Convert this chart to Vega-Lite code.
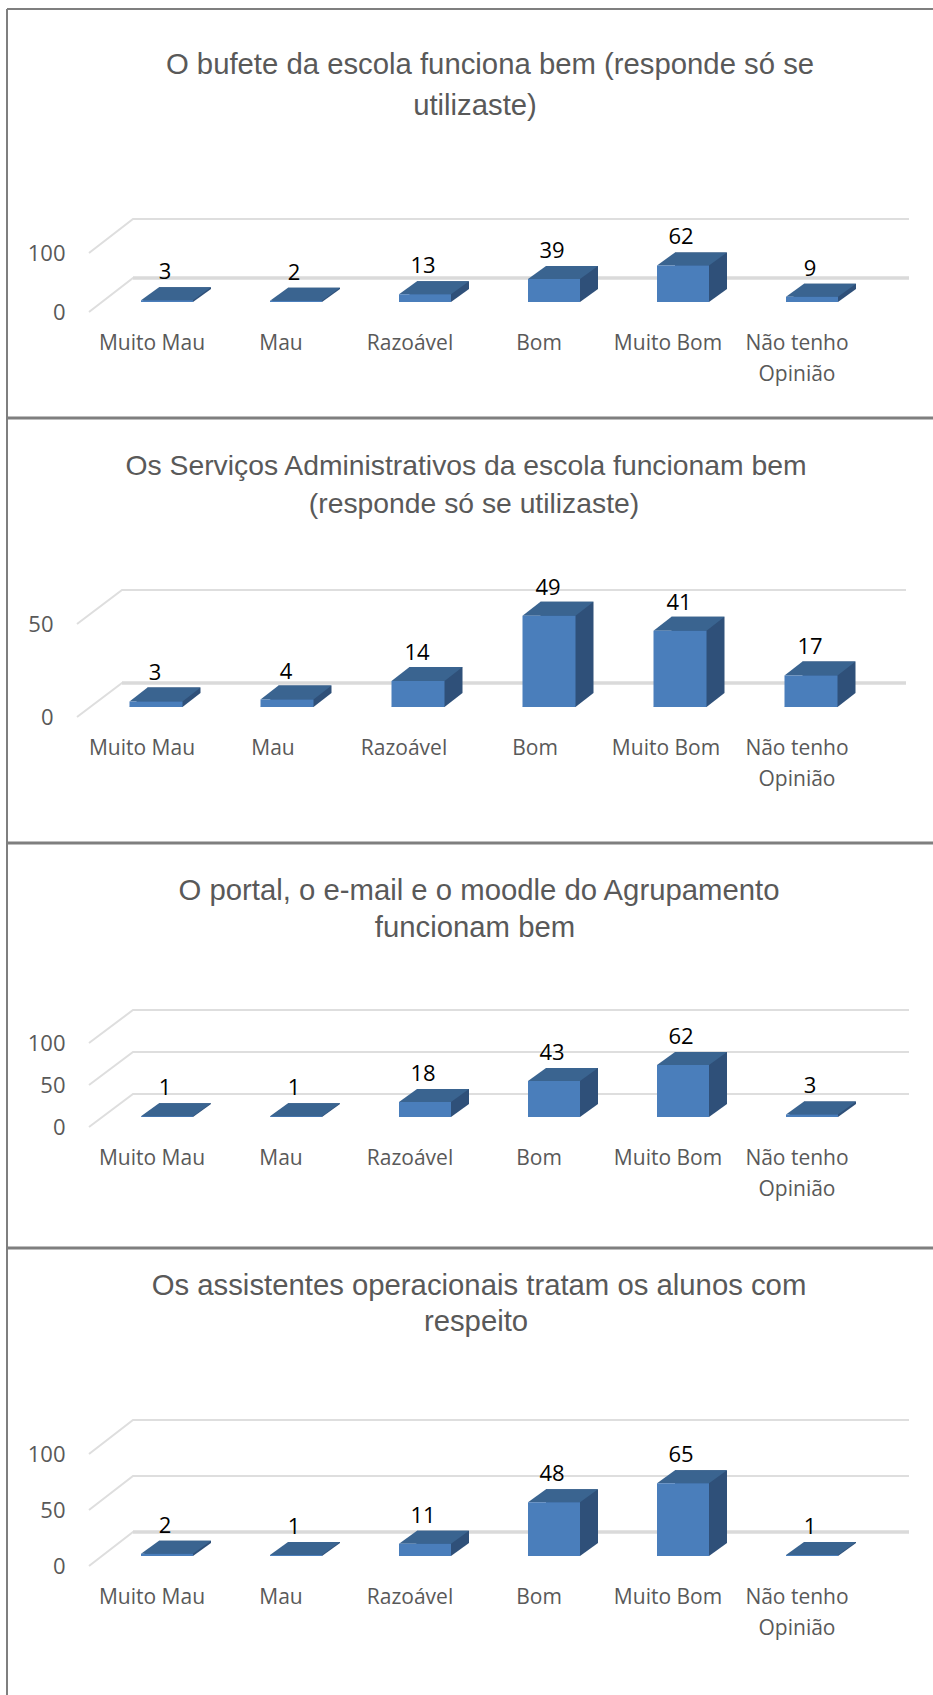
{"$schema":"https://vega.github.io/schema/vega-lite/v6.json","padding":0,"spacing":0,"bounds":"flush","background":"white","config":{"view":{"stroke":null},"axis":{"grid":false,"domain":false,"ticks":false,"title":null,"labelColor":"#595959","labelFont":"Open Sans"},"text":{"font":"Open Sans"}},
"vconcat":[
{"width":933,"height":418,"data":{"values":[{"c":"Muito Mau","v":3},{"c":"Mau","v":2},{"c":"Razoável","v":13},{"c":"Bom","v":39},{"c":"Muito Bom","v":62},{"c":"Não tenho Opinião","v":9}]},
"encoding":{"x":{"field":"c","type":"nominal","sort":null,"scale":{"type":"band","range":[102.5,876.5],"padding":0},"axis":{"labelAngle":0,"labelFontSize":21,"labelOffset":-15,"labelPadding":0,"labelBaseline":"top","offset":-86,"labelLineHeight":31,"labelExpr":"datum.value=='Não tenho Opinião'?['Não tenho','Opinião']:datum.value"}}},
"layer":[
{"data":{"values":[{"t":0},{"t":100}]},"mark":{"type":"point","shape":"M-44,10L0,-24L776,-24","size":4,"filled":false,"opacity":1,"stroke":"#DEDEDE","strokeWidth":2},"encoding":{"x":{"value":133},"y":{"field":"t","type":"quantitative","scale":{"domain":[0,100],"range":[302,243]},"axis":{"values":[0,100],"labelFontSize":22,"labelOffset":10,"labelPadding":0,"offset":-65}}}},
{"data":{"values":[{"t":0}]},"mark":{"type":"point","shape":"M0,-24L776,-24","size":4,"filled":false,"opacity":1,"stroke":"#DADADA","strokeWidth":3.5},"encoding":{"x":{"value":133},"y":{"field":"t","type":"quantitative"}}},
{"mark":{"type":"point","shape":"M-26,0L-8,-13L44,-13L26,0Z","size":4,"filled":true,"opacity":1,"color":"#2F5079"},"encoding":{"y":{"datum":0,"type":"quantitative"}}},
{"mark":{"type":"bar","width":52,"color":"#2F5079","xOffset":18,"yOffset":-13,"y2Offset":-13},"encoding":{"y":{"field":"v","type":"quantitative","stack":null},"y2":{"datum":0}}},
{"mark":{"type":"point","shape":"M-26,0L-8,-13L44,-13L26,0Z","size":4,"filled":true,"opacity":1,"color":"#3A6490"},"encoding":{"y":{"field":"v","type":"quantitative"}}},
{"mark":{"type":"bar","width":52,"color":"#4A7EBB"},"encoding":{"y":{"field":"v","type":"quantitative","stack":null},"y2":{"datum":0}}},
{"mark":{"type":"text","color":"black","fontSize":22,"dy":-28,"dx":-2},"encoding":{"y":{"field":"v","type":"quantitative"},"text":{"field":"v"}}},
{"data":{"values":[{"t":"O bufete da escola funciona bem (responde só se"}]},"mark":{"type":"text","font":"Liberation Sans","fontSize":29.3,"baseline":"alphabetic","color":"#595959"},"encoding":{"x":{"value":490},"y":{"value":74},"text":{"field":"t"}}},
{"data":{"values":[{"t":"utilizaste)"}]},"mark":{"type":"text","font":"Liberation Sans","fontSize":29.3,"baseline":"alphabetic","color":"#595959"},"encoding":{"x":{"value":475},"y":{"value":115},"text":{"field":"t"}}},
{"data":{"values":[{}]},"mark":{"type":"rule","color":"#7F7F7F","strokeWidth":2},"encoding":{"x":{"value":7},"x2":{"value":933},"y":{"value":9}}},
{"data":{"values":[{}]},"mark":{"type":"rule","color":"#7F7F7F","strokeWidth":2},"encoding":{"x":{"value":7},"y":{"value":9},"y2":{"value":418}}}
]},
{"width":933,"height":425,"data":{"values":[{"c":"Muito Mau","v":3},{"c":"Mau","v":4},{"c":"Razoável","v":14},{"c":"Bom","v":49},{"c":"Muito Bom","v":41},{"c":"Não tenho Opinião","v":17}]},
"encoding":{"x":{"field":"c","type":"nominal","sort":null,"scale":{"type":"band","range":[90.5,876.5],"padding":0},"axis":{"labelAngle":0,"labelFontSize":21,"labelOffset":-14,"labelPadding":0,"labelBaseline":"top","offset":-106,"labelLineHeight":31,"labelExpr":"datum.value=='Não tenho Opinião'?['Não tenho','Opinião']:datum.value"}}},
"layer":[
{"data":{"values":[{"t":0},{"t":50}]},"mark":{"type":"point","shape":"M-45,10L0,-24L784,-24","size":4,"filled":false,"opacity":1,"stroke":"#DEDEDE","strokeWidth":2},"encoding":{"x":{"value":122},"y":{"field":"t","type":"quantitative","scale":{"domain":[0,50],"range":[289,196]},"axis":{"values":[0,50],"labelFontSize":22,"labelOffset":10,"labelPadding":0,"offset":-53}}}},
{"data":{"values":[{"t":0}]},"mark":{"type":"point","shape":"M0,-24L784,-24","size":4,"filled":false,"opacity":1,"stroke":"#DADADA","strokeWidth":3.5},"encoding":{"x":{"value":122},"y":{"field":"t","type":"quantitative"}}},
{"mark":{"type":"point","shape":"M-26.5,0L-8.5,-14L44.5,-14L26.5,0Z","size":4,"filled":true,"opacity":1,"color":"#2F5079"},"encoding":{"y":{"datum":0,"type":"quantitative"}}},
{"mark":{"type":"bar","width":53,"color":"#2F5079","xOffset":18,"yOffset":-14,"y2Offset":-14},"encoding":{"y":{"field":"v","type":"quantitative","stack":null},"y2":{"datum":0}}},
{"mark":{"type":"point","shape":"M-26.5,0L-8.5,-14L44.5,-14L26.5,0Z","size":4,"filled":true,"opacity":1,"color":"#3A6490"},"encoding":{"y":{"field":"v","type":"quantitative"}}},
{"mark":{"type":"bar","width":53,"color":"#4A7EBB"},"encoding":{"y":{"field":"v","type":"quantitative","stack":null},"y2":{"datum":0}}},
{"mark":{"type":"text","color":"black","fontSize":22,"dy":-28,"dx":-1},"encoding":{"y":{"field":"v","type":"quantitative"},"text":{"field":"v"}}},
{"data":{"values":[{"t":"Os Serviços Administrativos da escola funcionam bem"}]},"mark":{"type":"text","font":"Liberation Sans","fontSize":28.3,"baseline":"alphabetic","color":"#595959"},"encoding":{"x":{"value":466},"y":{"value":57},"text":{"field":"t"}}},
{"data":{"values":[{"t":"(responde só se utilizaste)"}]},"mark":{"type":"text","font":"Liberation Sans","fontSize":28.3,"baseline":"alphabetic","color":"#595959"},"encoding":{"x":{"value":474},"y":{"value":95},"text":{"field":"t"}}},
{"data":{"values":[{}]},"mark":{"type":"rule","color":"#7F7F7F","strokeWidth":3},"encoding":{"x":{"value":7},"x2":{"value":933},"y":{"value":0}}},
{"data":{"values":[{}]},"mark":{"type":"rule","color":"#7F7F7F","strokeWidth":2},"encoding":{"x":{"value":7},"y":{"value":0},"y2":{"value":425}}}
]},
{"width":933,"height":405,"data":{"values":[{"c":"Muito Mau","v":1},{"c":"Mau","v":1},{"c":"Razoável","v":18},{"c":"Bom","v":43},{"c":"Muito Bom","v":62},{"c":"Não tenho Opinião","v":3}]},
"encoding":{"x":{"field":"c","type":"nominal","sort":null,"scale":{"type":"band","range":[102.5,876.5],"padding":0},"axis":{"labelAngle":0,"labelFontSize":21,"labelOffset":-15,"labelPadding":0,"labelBaseline":"top","offset":-101,"labelLineHeight":31,"labelExpr":"datum.value=='Não tenho Opinião'?['Não tenho','Opinião']:datum.value"}}},
"layer":[
{"data":{"values":[{"t":0},{"t":50},{"t":100}]},"mark":{"type":"point","shape":"M-44,10L0,-23L776,-23","size":4,"filled":false,"opacity":1,"stroke":"#DEDEDE","strokeWidth":2},"encoding":{"x":{"value":133},"y":{"field":"t","type":"quantitative","scale":{"domain":[0,100],"range":[274,190]},"axis":{"values":[0,50,100],"labelFontSize":22,"labelOffset":10,"labelPadding":0,"offset":-65}}}},
{"mark":{"type":"point","shape":"M-26,0L-8,-13L44,-13L26,0Z","size":4,"filled":true,"opacity":1,"color":"#2F5079"},"encoding":{"y":{"datum":0,"type":"quantitative"}}},
{"mark":{"type":"bar","width":52,"color":"#2F5079","xOffset":18,"yOffset":-13,"y2Offset":-13},"encoding":{"y":{"field":"v","type":"quantitative","stack":null},"y2":{"datum":0}}},
{"mark":{"type":"point","shape":"M-26,0L-8,-13L44,-13L26,0Z","size":4,"filled":true,"opacity":1,"color":"#3A6490"},"encoding":{"y":{"field":"v","type":"quantitative"}}},
{"mark":{"type":"bar","width":52,"color":"#4A7EBB"},"encoding":{"y":{"field":"v","type":"quantitative","stack":null},"y2":{"datum":0}}},
{"mark":{"type":"text","color":"black","fontSize":22,"dy":-28,"dx":-2},"encoding":{"y":{"field":"v","type":"quantitative"},"text":{"field":"v"}}},
{"data":{"values":[{"t":"O portal, o e-mail e o moodle do Agrupamento"}]},"mark":{"type":"text","font":"Liberation Sans","fontSize":29.3,"baseline":"alphabetic","color":"#595959"},"encoding":{"x":{"value":479},"y":{"value":57},"text":{"field":"t"}}},
{"data":{"values":[{"t":"funcionam bem"}]},"mark":{"type":"text","font":"Liberation Sans","fontSize":29.3,"baseline":"alphabetic","color":"#595959"},"encoding":{"x":{"value":475},"y":{"value":94},"text":{"field":"t"}}},
{"data":{"values":[{}]},"mark":{"type":"rule","color":"#7F7F7F","strokeWidth":3},"encoding":{"x":{"value":7},"x2":{"value":933},"y":{"value":0}}},
{"data":{"values":[{}]},"mark":{"type":"rule","color":"#7F7F7F","strokeWidth":2},"encoding":{"x":{"value":7},"y":{"value":0},"y2":{"value":405}}}
]},
{"width":933,"height":447,"data":{"values":[{"c":"Muito Mau","v":2},{"c":"Mau","v":1},{"c":"Razoável","v":11},{"c":"Bom","v":48},{"c":"Muito Bom","v":65},{"c":"Não tenho Opinião","v":1}]},
"encoding":{"x":{"field":"c","type":"nominal","sort":null,"scale":{"type":"band","range":[102.5,876.5],"padding":0},"axis":{"labelAngle":0,"labelFontSize":21,"labelOffset":-15,"labelPadding":0,"labelBaseline":"top","offset":-109,"labelLineHeight":31,"labelExpr":"datum.value=='Não tenho Opinião'?['Não tenho','Opinião']:datum.value"}}},
"layer":[
{"data":{"values":[{"t":0},{"t":50},{"t":100}]},"mark":{"type":"point","shape":"M-44,10L0,-24L776,-24","size":4,"filled":false,"opacity":1,"stroke":"#DEDEDE","strokeWidth":2},"encoding":{"x":{"value":133},"y":{"field":"t","type":"quantitative","scale":{"domain":[0,100],"range":[308,196]},"axis":{"values":[0,50,100],"labelFontSize":22,"labelOffset":10,"labelPadding":0,"offset":-65}}}},
{"data":{"values":[{"t":0}]},"mark":{"type":"point","shape":"M0,-24L776,-24","size":4,"filled":false,"opacity":1,"stroke":"#DADADA","strokeWidth":3.5},"encoding":{"x":{"value":133},"y":{"field":"t","type":"quantitative"}}},
{"mark":{"type":"point","shape":"M-26,0L-8,-13L44,-13L26,0Z","size":4,"filled":true,"opacity":1,"color":"#2F5079"},"encoding":{"y":{"datum":0,"type":"quantitative"}}},
{"mark":{"type":"bar","width":52,"color":"#2F5079","xOffset":18,"yOffset":-13,"y2Offset":-13},"encoding":{"y":{"field":"v","type":"quantitative","stack":null},"y2":{"datum":0}}},
{"mark":{"type":"point","shape":"M-26,0L-8,-13L44,-13L26,0Z","size":4,"filled":true,"opacity":1,"color":"#3A6490"},"encoding":{"y":{"field":"v","type":"quantitative"}}},
{"mark":{"type":"bar","width":52,"color":"#4A7EBB"},"encoding":{"y":{"field":"v","type":"quantitative","stack":null},"y2":{"datum":0}}},
{"mark":{"type":"text","color":"black","fontSize":22,"dy":-28,"dx":-2},"encoding":{"y":{"field":"v","type":"quantitative"},"text":{"field":"v"}}},
{"data":{"values":[{"t":"Os assistentes operacionais tratam os alunos com"}]},"mark":{"type":"text","font":"Liberation Sans","fontSize":29.3,"baseline":"alphabetic","color":"#595959"},"encoding":{"x":{"value":479},"y":{"value":47},"text":{"field":"t"}}},
{"data":{"values":[{"t":"respeito"}]},"mark":{"type":"text","font":"Liberation Sans","fontSize":29.3,"baseline":"alphabetic","color":"#595959"},"encoding":{"x":{"value":476},"y":{"value":83},"text":{"field":"t"}}},
{"data":{"values":[{}]},"mark":{"type":"rule","color":"#7F7F7F","strokeWidth":3},"encoding":{"x":{"value":7},"x2":{"value":933},"y":{"value":0}}},
{"data":{"values":[{}]},"mark":{"type":"rule","color":"#7F7F7F","strokeWidth":2},"encoding":{"x":{"value":7},"y":{"value":0},"y2":{"value":447}}}
]}
]}
